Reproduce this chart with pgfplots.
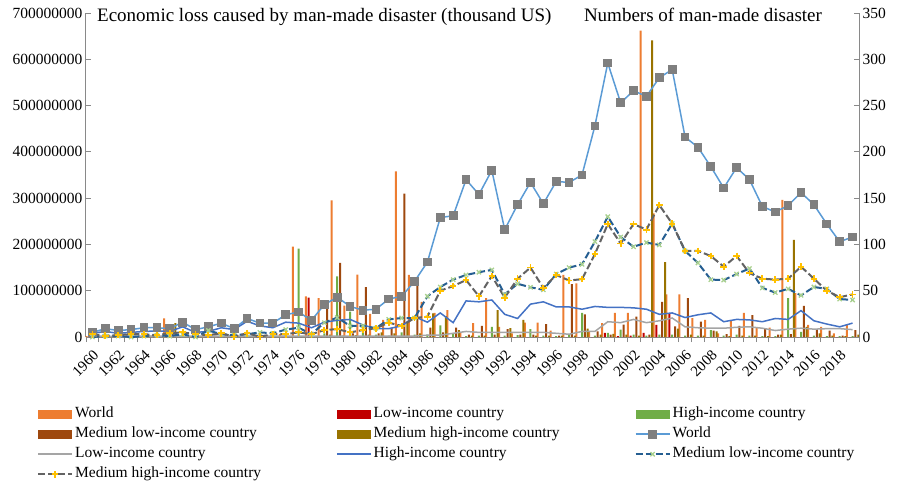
\documentclass[border=0pt]{standalone}
\usepackage{fontspec}
\setmainfont{Liberation Serif}
\usepackage{pgfplots}
\usepackage{pgfplotstable}
\pgfplotsset{compat=1.18}
\definecolor{cWB}{HTML}{ED7D31}
\definecolor{cLB}{HTML}{C00000}
\definecolor{cHB}{HTML}{70AD47}
\definecolor{cMLB}{HTML}{9E480E}
\definecolor{cMHB}{HTML}{997300}
\definecolor{cWL}{HTML}{5B9BD5}
\definecolor{cWM}{HTML}{7F7F7F}
\definecolor{cLoL}{HTML}{A5A5A5}
\definecolor{cHiL}{HTML}{4472C4}
\definecolor{cMLL}{HTML}{255E91}
\definecolor{cMLM}{HTML}{A9D18E}
\definecolor{cMHL}{HTML}{636363}
\definecolor{cMHM}{HTML}{FFC000}
\definecolor{axgray}{HTML}{898989}
\newcommand\tl{\fontsize{15.5}{16}\selectfont}
\newcommand\xl{\fontsize{15}{16}\selectfont}
\pgfplotsset{
  barleg/.style={legend image code/.code={\fill[##1] (0pt,-4.5pt) rectangle (34pt,4.5pt);}},
  lineleg/.style={legend image code/.code={\draw[mark repeat=2,mark phase=2,##1] plot coordinates {(0pt,0pt) (17pt,0pt) (34pt,0pt)};}},
}

\pgfplotstableread{
year W L H ML MH
1960 2 0 1 0 0
1961 1 0 0 0 0
1962 1 0 1 0 0
1963 2 0 1 0 0
1964 2 0 1 0 0
1965 3 0 2 0 0
1966 40 0 2 8 30
1967 3 0 2 1 0
1968 2 0 1 0 0
1969 3 0 2 0 0
1970 3 0 2 0 0
1971 2 0 1 0 0
1972 4 0 3 0 0
1973 3 0 2 0 0
1974 4 0 2 1 0
1975 6 0 4 1 0
1976 195 0 191 2 1
1977 88 85 1 2 0
1978 84 0 8 65 5
1979 295 0 131 160 3
1980 68 0 55 8 4
1981 135 0 10 108 5
1982 50 0 5 8 10
1983 37 0 3 20 8
1984 358 0 10 310 30
1985 134 0 5 119 8
1986 76 0 5 20 51
1987 52 0 25 10 45
1988 58 0 8 20 15
1989 10 0 2 5 3
1990 30 0 3 24 3
1991 84 0 22 5 58
1992 22 0 3 17 19
1993 8 0 4 5 37
1994 31 0 17 5 3
1995 31 0 3 28 3
1996 14 0 2 3 3
1997 134 0 5 114 3
1998 116 0 52 49 18
1999 12 0 3 12 5
2000 30 9 9 5 7
2001 52 2 16 27 5
2002 52 3 5 44 3
2003 662 9 3 5 641
2004 267 26 5 76 162
2005 92 51 5 23 18
2006 92 0 3 84 5
2007 41 0 3 33 3
2008 37 0 15 14 12
2009 8 0 3 6 2
2010 35 0 5 24 3
2011 52 0 3 47 3
2012 21 0 2 17 2
2013 20 0 2 5 5
2014 296 0 84 6 210
2015 95 0 11 67 22
2016 26 0 3 17 8
2017 22 0 2 14 3
2018 8 0 2 3 2
2019 26 0 2 15 5
}\bars

\pgfplotstableread{
year W Lo Hi ML MH
1960 5 1 4 0 3
1961 9 1 6 1 1.5
1962 7 0.5 4 1 2
1963 8 1 5 0 3
1964 10 1 6 1 3
1965 10 1 6.5 2 2
1966 9 1 6 1 4
1967 16 1 11 3 5
1968 8 1 5 0 3
1969 11 1 6 7 2
1970 15 1 10 3 4
1971 9 1 8 2 0.5
1972 20 1 17 3 4
1973 15 1 12 5 0.5
1974 15 1 10 4 3
1975 24 1 16 8 3
1976 27 1 15 10 5
1977 18 1 10 3 3
1978 35 1 16 15.5 7.5
1979 43 1 18 21 8.5
1980 33 1 19 12 5
1981 29 1 13 12 7.5
1982 30 1 9 9.5 9.5
1983 41 1 9 19 15.5
1984 44 1 12 20.5 12
1985 60 1 22 20.5 20.5
1986 81 2 16 44 22
1987 129 2 26 54 50
1988 131 4 15.5 62 55
1989 170 6 39 67 61.5
1990 154 5 38 70 44
1991 180 5 40 72.5 66
1992 116 5 24.5 46 42.5
1993 143 5 20 57.5 63
1994 167 5 35.5 53.7 75
1995 144 5 38 51 53
1996 168 4 32.5 68 67
1997 167 3 32.5 75 61
1998 175 6 30 78.5 62.5
1999 228 6 33 103 89.5
2000 296 16.5 32 130 122
2001 253 15.5 32 108 101
2002 266 19 31.5 97.5 122
2003 260 15.5 30 102 116
2004 280 17.5 24.5 99.5 142.5
2005 289 20.5 26 122.5 122.5
2006 216 11 21 93 93
2007 205 10 24 80 93
2008 184 9.5 26 62 87.5
2009 161 9.5 16.5 61.5 76
2010 183 10.5 19 68 87.5
2011 170 11 18.5 74 69
2012 141 9.5 16.5 53 63
2013 135 7 20 48 62
2014 142 8.5 19 52 63
2015 156 9.5 28.5 45 76
2016 143 8.5 17.5 54 63
2017 122 9 14 52 50
2018 103 9 11 41 43
2019 108 8 15 40 46
}\lines

\begin{document}
\begin{tikzpicture}
\path[use as bounding box] (-86pt,-148pt) rectangle (812pt,337pt);
\begin{axis}[
  scale only axis, width=773pt, height=324pt,
  xmin=1959.5, xmax=2019.5, ymin=0, ymax=700,
  clip=false,
  axis x line*=bottom, axis y line*=left,
  axis line style={draw=axgray, line width=1pt},
  ybar=0.85pt, bar width=2pt,
  tick align=inside, major tick length=5pt, minor tick length=5pt,
  tick style={draw=axgray, line width=0.8pt},
  xtick={1960,1962,...,2018},
  major x tick style={draw=none},
  minor xtick={1959.5,1960.5,...,2019.5},
  minor x tick style={yshift=-5pt},
  ytick={0,100,...,700},
  yticklabels={0,100000000,200000000,300000000,400000000,500000000,600000000,700000000},
  xticklabel shift=12pt,
  xticklabel style={rotate=45, anchor=north east, font=\xl, inner sep=0pt},
  yticklabel style={font=\tl},
  /pgf/number format/assume math mode=true,
  /pgf/number format/1000 sep={},
]
\addplot[fill=cWB, draw=none] table[x=year, y=W]{\bars};
\addplot[fill=cLB, draw=none] table[x=year, y=L]{\bars};
\addplot[fill=cHB, draw=none] table[x=year, y=H]{\bars};
\addplot[fill=cMLB, draw=none] table[x=year, y=ML]{\bars};
\addplot[fill=cMHB, draw=none] table[x=year, y=MH]{\bars};
\node[anchor=base west, font=\fontsize{19}{20}\selectfont, inner sep=0pt] at (rel axis cs:0.0142,0.973) {Economic loss caused by man-made disaster (thousand US)};
\node[anchor=base west, font=\fontsize{19}{20}\selectfont, inner sep=0pt] at (rel axis cs:0.644,0.973) {Numbers of man-made disaster};
\end{axis}
\begin{axis}[
  scale only axis, width=773pt, height=324pt,
  xmin=1959.5, xmax=2019.5, ymin=0, ymax=350,
  axis x line=none, axis y line*=right,
  axis line style={draw=axgray, line width=1pt},
  tick align=inside, major tick length=5pt,
  tick style={draw=axgray, line width=0.8pt},
  ytick={0,50,...,350},
  yticklabel style={font=\tl},
  /pgf/number format/assume math mode=true,
  legend columns=3,
  legend cell align=left,
  legend style={at={(rel axis cs:0,0)}, anchor=north west, xshift=-49pt, yshift=-67pt,
    draw=none, fill=none, font=\tl, inner sep=0pt,
    /tikz/every even column/.append style={column sep=73pt},
    nodes={inner xsep=2pt, inner ysep=2.5pt, text height=11pt, text depth=4pt}},
  lineleg,
]
\addlegendimage{fill=cWB, draw=none, barleg}
\addlegendentry{World}
\addlegendimage{fill=cLB, draw=none, barleg}
\addlegendentry{Low-income country}
\addlegendimage{fill=cHB, draw=none, barleg}
\addlegendentry{High-income country}
\addlegendimage{fill=cMLB, draw=none, barleg}
\addlegendentry{Medium low-income country}
\addlegendimage{fill=cMHB, draw=none, barleg}
\addlegendentry{Medium high-income country}
\addplot[color=cWL, line width=1.5pt, mark=square*, mark size=3.6pt, mark options={fill=cWM, draw=cWM, solid}] table[x=year, y=W]{\lines};
\addlegendentry{World}
\addplot[color=cLoL, line width=1.5pt, no markers] table[x=year, y=Lo]{\lines};
\addlegendentry{Low-income country}
\addplot[color=cHiL, line width=1.5pt, no markers] table[x=year, y=Hi]{\lines};
\addlegendentry{High-income country}
\addplot[color=cMLL, line width=2pt, dash pattern=on 7pt off 3pt, mark=x, mark size=3pt, mark options={draw=cMLM, solid, line width=1.3pt}] table[x=year, y=ML]{\lines};
\addlegendentry{Medium low-income country}
\addplot[color=cMHL, line width=2pt, dash pattern=on 7pt off 3pt, mark=+, mark size=3.3pt, mark options={draw=cMHM, solid, line width=1.8pt}] table[x=year, y=MH]{\lines};
\addlegendentry{Medium high-income country}
\end{axis}
\end{tikzpicture}
\end{document}
